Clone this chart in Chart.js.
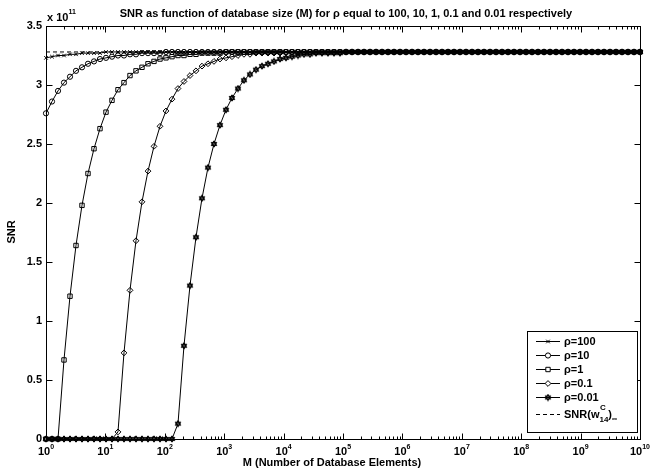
<!DOCTYPE html>
<html>
<head>
<meta charset="utf-8">
<script src="https://cdn.jsdelivr.net/npm/chart.js@4/dist/chart.umd.min.js"></script>
<style>
  html, body { margin: 0; padding: 0; background: #fff; }
  #wrap { width: 658px; height: 470px; }
</style>
</head>
<body>
<div id="wrap"><canvas id="snrChart" width="658" height="470"></canvas></div>
<script>
// log10 of M (database size), 100 points from 10^0 to 10^10
const logM = [
  0, 0.101, 0.202, 0.303, 0.404, 0.505, 0.606, 0.707, 0.808, 0.909,
  1.010, 1.111, 1.212, 1.313, 1.414, 1.515, 1.616, 1.717, 1.818, 1.919,
  2.020, 2.121, 2.222, 2.323, 2.424, 2.525, 2.626, 2.727, 2.828, 2.929,
  3.030, 3.131, 3.232, 3.333, 3.434, 3.535, 3.636, 3.737, 3.838, 3.939,
  4.040, 4.141, 4.242, 4.343, 4.444, 4.545, 4.646, 4.747, 4.848, 4.949,
  5.051, 5.152, 5.253, 5.354, 5.455, 5.556, 5.657, 5.758, 5.859, 5.960,
  6.061, 6.162, 6.263, 6.364, 6.465, 6.566, 6.667, 6.768, 6.869, 6.970,
  7.071, 7.172, 7.273, 7.374, 7.475, 7.576, 7.677, 7.778, 7.879, 7.980,
  8.081, 8.182, 8.283, 8.384, 8.485, 8.586, 8.687, 8.788, 8.889, 8.990,
  9.091, 9.192, 9.293, 9.394, 9.495, 9.596, 9.697, 9.798, 9.899, 10
];

// SNR values in units of 1e11
const snrRho100 = [
  3.23, 3.24, 3.25, 3.25, 3.26, 3.26, 3.27, 3.27, 3.27, 3.27,
  3.28, 3.28, 3.28, 3.28, 3.28, 3.28, 3.28, 3.28, 3.28, 3.28,
  3.28, 3.28, 3.28, 3.28, 3.28, 3.28, 3.28, 3.28, 3.28, 3.28,
  3.28, 3.28, 3.28, 3.28, 3.28, 3.28, 3.28, 3.28, 3.28, 3.28,
  3.28, 3.28, 3.28, 3.28, 3.28, 3.28, 3.28, 3.28, 3.28, 3.28,
  3.28, 3.28, 3.28, 3.28, 3.28, 3.28, 3.28, 3.28, 3.28, 3.28,
  3.28, 3.28, 3.28, 3.28, 3.28, 3.28, 3.28, 3.28, 3.28, 3.28,
  3.28, 3.28, 3.28, 3.28, 3.28, 3.28, 3.28, 3.28, 3.28, 3.28,
  3.28, 3.28, 3.28, 3.28, 3.28, 3.28, 3.28, 3.28, 3.28, 3.28,
  3.28, 3.28, 3.28, 3.28, 3.28, 3.28, 3.28, 3.28, 3.28, 3.28
];
const snrRho10 = [
  2.76, 2.86, 2.95, 3.02, 3.07, 3.12, 3.15, 3.18, 3.20, 3.22,
  3.23, 3.24, 3.25, 3.25, 3.26, 3.26, 3.27, 3.27, 3.27, 3.27,
  3.28, 3.28, 3.28, 3.28, 3.28, 3.28, 3.28, 3.28, 3.28, 3.28,
  3.28, 3.28, 3.28, 3.28, 3.28, 3.28, 3.28, 3.28, 3.28, 3.28,
  3.28, 3.28, 3.28, 3.28, 3.28, 3.28, 3.28, 3.28, 3.28, 3.28,
  3.28, 3.28, 3.28, 3.28, 3.28, 3.28, 3.28, 3.28, 3.28, 3.28,
  3.28, 3.28, 3.28, 3.28, 3.28, 3.28, 3.28, 3.28, 3.28, 3.28,
  3.28, 3.28, 3.28, 3.28, 3.28, 3.28, 3.28, 3.28, 3.28, 3.28,
  3.28, 3.28, 3.28, 3.28, 3.28, 3.28, 3.28, 3.28, 3.28, 3.28,
  3.28, 3.28, 3.28, 3.28, 3.28, 3.28, 3.28, 3.28, 3.28, 3.28
];
const snrRho1 = [
  0, 0, 0, 0.67, 1.21, 1.64, 1.98, 2.25, 2.46, 2.63,
  2.77, 2.87, 2.96, 3.02, 3.08, 3.12, 3.15, 3.18, 3.20, 3.22,
  3.23, 3.24, 3.25, 3.25, 3.26, 3.26, 3.27, 3.27, 3.27, 3.27,
  3.28, 3.28, 3.28, 3.28, 3.28, 3.28, 3.28, 3.28, 3.28, 3.28,
  3.28, 3.28, 3.28, 3.28, 3.28, 3.28, 3.28, 3.28, 3.28, 3.28,
  3.28, 3.28, 3.28, 3.28, 3.28, 3.28, 3.28, 3.28, 3.28, 3.28,
  3.28, 3.28, 3.28, 3.28, 3.28, 3.28, 3.28, 3.28, 3.28, 3.28,
  3.28, 3.28, 3.28, 3.28, 3.28, 3.28, 3.28, 3.28, 3.28, 3.28,
  3.28, 3.28, 3.28, 3.28, 3.28, 3.28, 3.28, 3.28, 3.28, 3.28,
  3.28, 3.28, 3.28, 3.28, 3.28, 3.28, 3.28, 3.28, 3.28, 3.28
];
const snrRho01 = [
  0, 0, 0, 0, 0, 0, 0, 0, 0, 0,
  0, 0, 0.06, 0.73, 1.26, 1.68, 2.01, 2.27, 2.48, 2.65,
  2.78, 2.88, 2.97, 3.03, 3.08, 3.12, 3.16, 3.18, 3.20, 3.22,
  3.23, 3.24, 3.25, 3.26, 3.26, 3.27, 3.27, 3.27, 3.27, 3.27,
  3.28, 3.28, 3.28, 3.28, 3.28, 3.28, 3.28, 3.28, 3.28, 3.28,
  3.28, 3.28, 3.28, 3.28, 3.28, 3.28, 3.28, 3.28, 3.28, 3.28,
  3.28, 3.28, 3.28, 3.28, 3.28, 3.28, 3.28, 3.28, 3.28, 3.28,
  3.28, 3.28, 3.28, 3.28, 3.28, 3.28, 3.28, 3.28, 3.28, 3.28,
  3.28, 3.28, 3.28, 3.28, 3.28, 3.28, 3.28, 3.28, 3.28, 3.28,
  3.28, 3.28, 3.28, 3.28, 3.28, 3.28, 3.28, 3.28, 3.28, 3.28
];
const snrRho001 = [
  0, 0, 0, 0, 0, 0, 0, 0, 0, 0,
  0, 0, 0, 0, 0, 0, 0, 0, 0, 0,
  0, 0, 0.13, 0.79, 1.30, 1.71, 2.04, 2.30, 2.50, 2.66,
  2.79, 2.89, 2.97, 3.04, 3.09, 3.13, 3.16, 3.18, 3.20, 3.22,
  3.23, 3.24, 3.25, 3.26, 3.26, 3.27, 3.27, 3.27, 3.27, 3.27,
  3.28, 3.28, 3.28, 3.28, 3.28, 3.28, 3.28, 3.28, 3.28, 3.28,
  3.28, 3.28, 3.28, 3.28, 3.28, 3.28, 3.28, 3.28, 3.28, 3.28,
  3.28, 3.28, 3.28, 3.28, 3.28, 3.28, 3.28, 3.28, 3.28, 3.28,
  3.28, 3.28, 3.28, 3.28, 3.28, 3.28, 3.28, 3.28, 3.28, 3.28,
  3.28, 3.28, 3.28, 3.28, 3.28, 3.28, 3.28, 3.28, 3.28, 3.28
];
const snrLimit = 3.28;   // SNR(w14^C)_inf

const rhoLabels = ['\u03c1=100', '\u03c1=10', '\u03c1=1', '\u03c1=0.1', '\u03c1=0.01'];
const yTicks = [0, 0.5, 1, 1.5, 2, 2.5, 3, 3.5];
const xDecades = [0, 1, 2, 3, 4, 5, 6, 7, 8, 9, 10];

const FONT = '"Liberation Sans", Arial, Helvetica, sans-serif';

// hexagram marker (MATLAB 'h')
function makeHexagram(size) {
    const c = document.createElement('canvas');
    c.width = size; c.height = size;
    const g = c.getContext('2d');
    const cx = size / 2, cy = size / 2, r = size / 2 - 0.8;
    g.strokeStyle = '#000';
    g.lineWidth = 1;
    g.fillStyle = 'rgba(0,0,0,0.35)';
    [ -90, 90 ].forEach(function(start) {
        g.beginPath();
        for (let k = 0; k < 3; k++) {
            const a = (start + k * 120) * Math.PI / 180;
            const px = cx + r * Math.cos(a), py = cy + r * Math.sin(a);
            if (k === 0) g.moveTo(px, py); else g.lineTo(px, py);
        }
        g.closePath();
        g.fill();
        g.stroke();
    });
    return c;
}
const hexagram = makeHexagram(8);

function toPoints(values) {
    return values.map((v, i) => ({ x: Math.pow(10, logM[i]), y: v }));
}

const seriesValues = [snrRho100, snrRho10, snrRho1, snrRho01, snrRho001];
const markerStyles = [
    { pointStyle: 'crossRot', pointRadius: 2.5 },
    { pointStyle: 'circle', pointRadius: 2.6 },
    { pointStyle: 'rect', pointRadius: 3.1 },
    { pointStyle: 'rectRot', pointRadius: 2.9 },
    { pointStyle: hexagram, pointRadius: 4 }
];

const datasets = seriesValues.map((vals, k) => ({
    label: rhoLabels[k],
    data: toPoints(vals),
    borderColor: '#000',
    borderWidth: 1,
    pointBorderColor: '#000',
    pointBackgroundColor: 'rgba(0,0,0,0)',
    pointBorderWidth: 1,
    pointStyle: markerStyles[k].pointStyle,
    pointRadius: markerStyles[k].pointRadius,
    tension: 0,
    clip: false
}));
datasets.push({
    label: 'SNR(w14C)inf',
    data: [{ x: 1, y: snrLimit }, { x: 1e10, y: snrLimit }],
    borderColor: '#000',
    borderWidth: 1,
    borderDash: [4, 3],
    pointRadius: 0,
    clip: false
});

// text with raised / lowered parts: parts = [[text, size, dy]]
function drawRich(ctx, parts, x, y, align) {
    let total = 0;
    parts.forEach(p => { ctx.font = 'bold ' + p[1] + 'px ' + FONT; total += ctx.measureText(p[0]).width; });
    let cx = align === 'center' ? x - total / 2 : x;
    ctx.textAlign = 'left';
    ctx.textBaseline = 'alphabetic';
    parts.forEach(p => {
        ctx.font = 'bold ' + p[1] + 'px ' + FONT;
        ctx.fillText(p[0], cx, y + p[2]);
        cx += ctx.measureText(p[0]).width;
    });
}

const matlabAxes = {
    id: 'matlabAxes',
    beforeDatasetsDraw(chart) {
        const ctx = chart.ctx;
        const a = chart.chartArea;
        const xs = chart.scales.x, ys = chart.scales.y;
        const L = Math.round(a.left) + 0.5, R = Math.round(a.right) + 0.5;
        const T = Math.round(a.top) + 0.5, B = Math.round(a.bottom) + 0.5;
        ctx.save();
        ctx.strokeStyle = '#000';
        ctx.lineWidth = 1;
        ctx.strokeRect(L, T, R - L, B - T);
        ctx.beginPath();
        // x ticks, major and minor, top and bottom, pointing inwards
        xDecades.forEach(d => {
            for (let m = 1; m <= 9; m++) {
                if (d === 10 && m > 1) break;
                const px = Math.round(xs.getPixelForValue(m * Math.pow(10, d))) + 0.5;
                const len = m === 1 ? 6 : 3;
                ctx.moveTo(px, B); ctx.lineTo(px, B - len);
                ctx.moveTo(px, T); ctx.lineTo(px, T + len);
            }
        });
        yTicks.forEach(v => {
            const py = Math.round(ys.getPixelForValue(v)) + 0.5;
            ctx.moveTo(L, py); ctx.lineTo(L + 6, py);
            ctx.moveTo(R, py); ctx.lineTo(R - 6, py);
        });
        ctx.stroke();
        ctx.restore();
    },
    afterDraw(chart) {
        const ctx = chart.ctx;
        const xs = chart.scales.x;
        const a = chart.chartArea;
        ctx.save();
        ctx.fillStyle = '#000';

        // x tick labels 10^k
        xDecades.forEach(d => {
            const px = xs.getPixelForValue(Math.pow(10, d));
            drawRich(ctx, [['10', 11, 0], [String(d), 7, -6]], px, a.bottom + 16, 'center');
        });

        // title
        ctx.font = 'bold 11px ' + FONT;
        ctx.textAlign = 'center';
        ctx.textBaseline = 'alphabetic';
        ctx.fillText('SNR as function of database size (M) for \u03c1 equal to 100, 10, 1, 0.1 and 0.01 respectively', 346, 17);

        // axis labels
        ctx.fillText('M (Number of Database Elements)', 332, 466);
        ctx.save();
        ctx.translate(15, 232);
        ctx.rotate(-Math.PI / 2);
        ctx.fillText('SNR', 0, 0);
        ctx.restore();

        // exponent over the y axis
        drawRich(ctx, [['x 10', 11, 0], ['11', 7, -7]], 47, 21, 'left');

        // legend
        const bx = 527, by = 331, bw = 110, bh = 101;
        ctx.fillStyle = '#fff';
        ctx.fillRect(bx, by, bw, bh);
        ctx.strokeStyle = '#000';
        ctx.lineWidth = 1;
        ctx.strokeRect(bx + 0.5, by + 0.5, bw, bh);
        const rowY = [341, 355, 369, 383, 397, 414];
        const x0 = 536, x1 = 560, tx = 564;
        datasets.forEach((ds, k) => {
            const y = rowY[k] + 0.5;
            ctx.beginPath();
            ctx.setLineDash(ds.borderDash || []);
            ctx.moveTo(x0, y); ctx.lineTo(x1, y);
            ctx.stroke();
            ctx.setLineDash([]);
            if (k < 5) {
                ctx.fillStyle = '#fff';
                Chart.helpers.drawPoint(ctx, {
                    pointStyle: ds.pointStyle, radius: ds.pointRadius,
                    borderWidth: 1, rotation: 0
                }, (x0 + x1) / 2, y);
                ctx.fillStyle = '#000';
                ctx.font = 'bold 11px ' + FONT;
                ctx.textAlign = 'left';
                ctx.textBaseline = 'middle';
                ctx.fillText(rhoLabels[k], tx, y + 0.5);
            }
        });
        ctx.fillStyle = '#000';
        drawRich(ctx, [['SNR(w', 11, 0]], tx, 418, 'left');
        ctx.font = 'bold 11px ' + FONT;
        const wEnd = tx + ctx.measureText('SNR(w').width;
        drawRich(ctx, [['C', 8, 0]], wEnd + 0.5, 410, 'left');
        drawRich(ctx, [['14', 8, 0]], wEnd, 422, 'left');
        ctx.font = 'bold 8px ' + FONT;
        const subEnd = wEnd + ctx.measureText('14').width;
        drawRich(ctx, [[')', 11, 0]], subEnd, 418, 'left');
        ctx.font = 'bold 11px ' + FONT;
        drawRich(ctx, [['\u221e', 7, 0]], subEnd + ctx.measureText(')').width, 421, 'left');
        ctx.restore();
    }
};

new Chart(document.getElementById('snrChart').getContext('2d'), {
    type: 'line',
    data: { datasets: datasets },
    options: {
        responsive: false,
        animation: false,
        layout: { padding: { left: 0, top: 26, right: 18, bottom: 0 } },
        plugins: {
            legend: { display: false },
            tooltip: { enabled: false },
            title: { display: false }
        },
        scales: {
            x: {
                type: 'logarithmic',
                min: 1,
                max: 1e10,
                grid: { display: false, drawTicks: false },
                border: { display: false },
                ticks: { display: false },
                afterFit: s => { s.height = 31; }
            },
            y: {
                type: 'linear',
                min: 0,
                max: 3.5,
                afterBuildTicks: s => { s.ticks = yTicks.map(v => ({ value: v })); },
                grid: { display: false, drawTicks: false },
                border: { display: false },
                ticks: {
                    color: '#000',
                    padding: 4,
                    font: { family: FONT, size: 11, weight: 'bold' },
                    callback: v => String(v)
                },
                afterFit: s => { s.width = 46; }
            }
        }
    },
    plugins: [matlabAxes]
});
</script>
</body>
</html>
